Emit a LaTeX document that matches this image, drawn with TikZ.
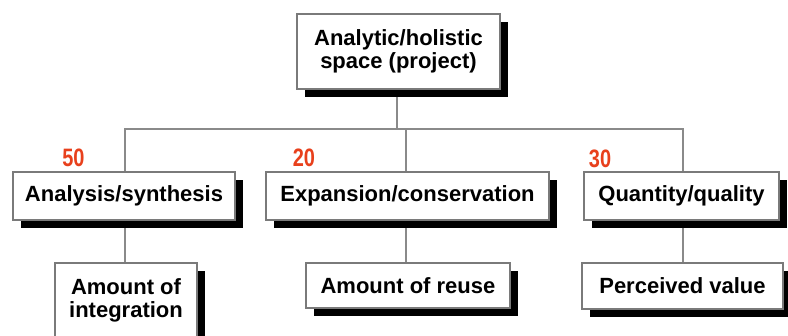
\documentclass[tikz,border=0pt]{standalone}
\usepackage{fontspec}
\setmainfont{Liberation Sans}
\usetikzlibrary{shadows,backgrounds}
\definecolor{numred}{HTML}{E8401C}
\definecolor{linegray}{HTML}{8A8A8A}
\definecolor{boxgray}{HTML}{7A7A7A}
\newcommand{\bignum}[1]{\scalebox{0.95}[1.2]{#1}}
\begin{document}
\begin{tikzpicture}[x=1pt,y=-1pt,
  box/.style={draw=boxgray, line width=1.2pt, fill=white, inner sep=0pt, align=center,
    font=\fontsize{22}{23}\selectfont\bfseries,
    drop shadow={shadow xshift=8pt, shadow yshift=-8pt, fill=black, opacity=1}},
  conn/.style={draw=linegray, line width=1.6pt},
  num/.style={text=numred, inner sep=0pt, font=\fontsize{21}{21}\selectfont\bfseries}]
\useasboundingbox (0,0) rectangle (788,336);
\node[box, minimum width=203pt, minimum height=75pt] (top) at (398.5,51.5) {Analytic/holistic\\space (project)};
\node[box, minimum width=222pt, minimum height=48pt] (as) at (124,196) {Analysis/synthesis};
\node[box, minimum width=283pt, minimum height=48pt] (ec) at (407.5,196) {Expansion/conservation};
\node[box, minimum width=195pt, minimum height=48pt] (qq) at (681.5,196) {Quantity/quality};
\node[box, minimum width=142pt, minimum height=75pt] (ai) at (126,300.5) {Amount of\\integration};
\node[box, minimum width=204pt, minimum height=45pt] (ar) at (408,285.5) {Amount of reuse};
\node[box, minimum width=201pt, minimum height=46pt] (pv) at (682.5,286) {Perceived value};
\node[num] (n50) at (73.5,158) {\bignum{50}};
\node[num] (n20) at (304,158) {\bignum{20}};
\node[num] (n30) at (600,159) {\bignum{30}};
\coordinate (bt) at (397,129);
\coordinate (bl) at (125,129);
\coordinate (bm) at (406,129);
\coordinate (br) at (683,129);
\begin{scope}[on background layer]
\draw[conn] (top.south -| bt) -- (bt);
\draw[conn] (bl |- as.north) -- (bl) -- (br) -- (br |- qq.north);
\draw[conn] (bm) -- (bm |- ec.north);
\draw[conn] (as.south -| bl) -- (bl |- ai.north);
\draw[conn] (ec.south -| bm) -- (bm |- ar.north);
\draw[conn] (qq.south -| br) -- (br |- pv.north);
\end{scope}
\end{tikzpicture}
\end{document}
